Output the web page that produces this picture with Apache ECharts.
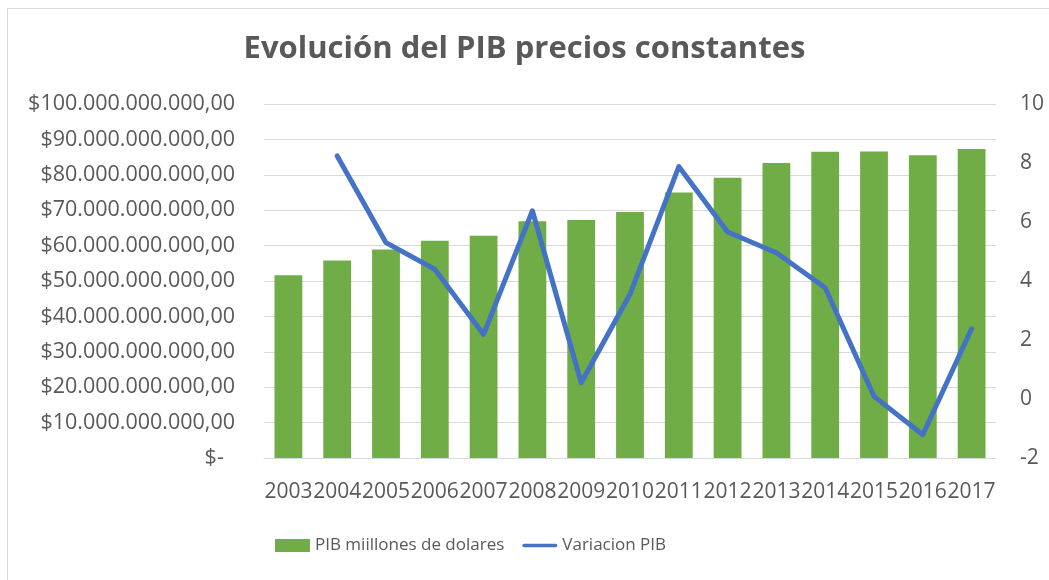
<!DOCTYPE html>
<html>
<head>
<meta charset="utf-8">
<script src="https://cdn.jsdelivr.net/npm/echarts@6/dist/echarts.min.js"></script>
<style>
  html, body { margin: 0; padding: 0; background: #fff; overflow: hidden; }
  #frame {
    position: absolute; left: 7px; top: 8px; width: 1100px; height: 620px;
    border: 1px solid #d9d9d9; box-sizing: border-box;
  }
  #chart { position: absolute; left: 0; top: 0; width: 1049px; height: 580px; }
</style>
</head>
<body>
<div id="frame"></div>
<div id="chart"></div>
<script>
// años
var years = ['2003', '2004', '2005', '2006', '2007', '2008', '2009', '2010',
  '2011', '2012', '2013', '2014', '2015', '2016', '2017']
// PIB en miles de millones de dolares
var pib = [51.6, 55.8, 58.9, 61.4, 62.8, 66.9, 67.2, 69.5,
  75.0, 79.2, 83.3, 86.5, 86.6, 85.5, 87.3]
// variacion anual del PIB (%)
var variacion = [null, 8.24, 5.30, 4.40, 2.19, 6.38, 0.55, 3.55,
  7.88, 5.66, 4.96, 3.77, 0.09, -1.21, 2.38]

var labelColor = '#595959'
var gridColor = '#d9d9d9'
var font = '"Open Sans", sans-serif'

function dolares (v) {
  if (v === 0) return '$-  '
  return '$' + v + '.000.000.000,00'
}

var chart = echarts.init(document.getElementById('chart'))
var option = {
  animation: false,
  title: {
    text: 'Evolución del PIB precios constantes',
    left: 'center',
    top: 29,
    textStyle: {
      color: labelColor,
      fontFamily: font,
      fontSize: 31,
      fontWeight: 'bold'
    }
  },
  legend: {
    left: 270,
    top: 532,
    itemGap: 18,
    itemWidth: 35,
    itemHeight: 13,
    textStyle: { color: labelColor, fontFamily: font, fontSize: 17 },
    data: [
      { name: 'PIB miillones de dolares', icon: 'rect' },
      {
        name: 'Variacion PIB',
        icon: 'path://M2,0 L38,0 A2,2 0 0 1 38,4 L2,4 A2,2 0 0 1 2,0 Z',
        itemStyle: { color: '#4472c4' }
      }
    ]
  },
  grid: {
    left: 264,
    right: 53,
    top: 104,
    bottom: 122
  },
  xAxis: {
    type: 'category',
    data: years,
    axisTick: { show: false },
    axisLine: { lineStyle: { color: gridColor, width: 1 } },
    axisLabel: {
      interval: 0,
      margin: 24,
      color: labelColor,
      fontFamily: font,
      fontSize: 21
    }
  },
  yAxis: [
    {
      type: 'value',
      min: 0,
      max: 100,
      interval: 10,
      axisLine: { show: false },
      axisTick: { show: false },
      splitLine: { lineStyle: { color: gridColor, width: 1 } },
      axisLabel: {
        margin: 29,
        color: labelColor,
        fontFamily: font,
        fontSize: 21.5,
        formatter: dolares
      }
    },
    {
      type: 'value',
      min: -2,
      max: 10,
      interval: 2,
      axisLine: { show: false },
      axisTick: { show: false },
      splitLine: { show: false },
      axisLabel: {
        margin: 24,
        color: labelColor,
        fontFamily: font,
        fontSize: 21
      }
    }
  ],
  series: [
    {
      name: 'PIB miillones de dolares',
      type: 'bar',
      data: pib,
      barCategoryGap: '43%',
      itemStyle: { color: '#70ad47' }
    },
    {
      name: 'Variacion PIB',
      type: 'line',
      yAxisIndex: 1,
      data: variacion,
      symbol: 'none',
      lineStyle: { color: '#4472c4', width: 5, cap: 'round', join: 'round' },
      itemStyle: { color: '#4472c4' }
    }
  ]
}
chart.setOption(option)
</script>
</body>
</html>
